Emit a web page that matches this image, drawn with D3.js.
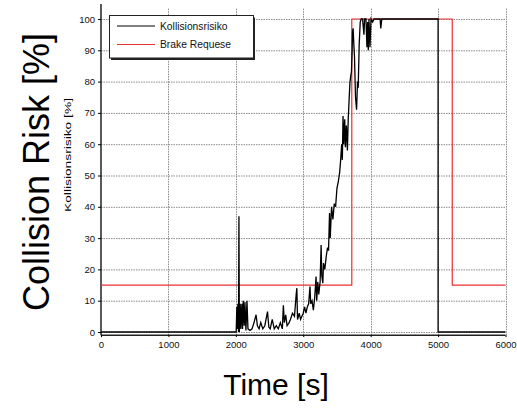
<!DOCTYPE html>
<html>
<head>
<meta charset="utf-8">
<script src="https://cdn.jsdelivr.net/npm/d3@7"></script>
<style>
  body { margin: 0; background: #fff; }
  text { font-family: "Liberation Sans", Arial, sans-serif; }
</style>
</head>
<body>
<svg></svg>
<script>
// data
var riskTime = [0,1990,2005,2015,2022,2030,2040,2046,2052,2065,2075,2090,2100,2110,2125,2135,2150,2165,2180,2210,2240,2270,2300,2320,2345,2370,2400,2430,2470,2490,2510,2540,2570,2600,2630,2660,2690,2705,2720,2740,2760,2790,2810,2840,2870,2895,2905,2915,2940,2960,2980,3000,3020,3040,3060,3080,3100,3110,3130,3150,3170,3190,3200,3215,3230,3250,3265,3275,3290,3300,3320,3340,3360,3375,3390,3400,3420,3440,3460,3480,3500,3520,3540,3555,3570,3580,3590,3600,3615,3625,3640,3655,3667,3680,3692,3705,3715,3725,3731,3740,3750,3760,3775,3791,3805,3815,3830,3845,3860,3880,3900,3910,3930,3945,3955,3965,3975,3990,4005,4030,4050,4140,4150,4165,5000,5000,6000];
var riskVals = [0,0,0,8,1,9,0,37,0,9,1,9,1,10,2,9.6,0.5,10,1,0.5,1,3,5.5,2,1,3,1,2,6.5,1.5,1,4,1,2,1,3,1,8.5,3,5.5,2,3,4,6,5,12,14,4,6,4,5,6,8,6,8,9,14.5,9,10,7,11,17.7,10,16,12,16,27.8,18,15.6,22,20,24,27,26,38,30,40,36,41,40,46,48,51,55,60,55,69,60,68,59,66,58,68,74,79.5,82,83,90,96,97,92,88,75,71,80,78,92,99,100,100,95,100,100,91,99,90,100,91,100,99,100,100,97,100,100,0,0];

var brakeTime = [0,3720,3720,5210,5210,6000];
var brakeVals = [15,15,100,100,15,15];

var xTicks = [0,1000,2000,3000,4000,5000,6000];
var yTicks = [0,10,20,30,40,50,60,70,80,90,100];

var seriesNames = ["Kollisionsrisiko", "Brake Requese"];
var seriesColors = ["#000000", "#e83030"];

var svgWidth = 517, svgHeight = 408;

var svg = d3.select("svg")
    .attr("width", svgWidth)
    .attr("height", svgHeight);

var xScale = d3.scaleLinear()
    .domain([0, 6000])
    .range([101, 505.5]);

var yScale = d3.scaleLinear()
    .domain([0, 100])
    .range([332, 19]);

var yBottom = yScale(-1), yTop = yScale(104.8);

// grid
svg.append("g").selectAll("line")
    .data(yTicks)
    .enter()
    .append("line")
    .attr("x1", xScale(0))
    .attr("x2", xScale(6000))
    .attr("y1", function(d) { return yScale(d) + 0.5; })
    .attr("y2", function(d) { return yScale(d) + 0.5; })
    .attr("stroke", "#8a8a8a")
    .attr("stroke-dasharray", "1.5,1");

svg.append("g").selectAll("line")
    .data(xTicks.slice(1))
    .enter()
    .append("line")
    .attr("x1", function(d) { return Math.round(xScale(d)) + 0.5; })
    .attr("x2", function(d) { return Math.round(xScale(d)) + 0.5; })
    .attr("y1", yBottom)
    .attr("y2", yScale(103.5))
    .attr("stroke", "#8a8a8a")
    .attr("stroke-dasharray", "1.5,1");

// axes
var xAxis = d3.axisBottom(xScale)
    .tickValues(xTicks)
    .tickFormat(d3.format("d"))
    .tickSize(2)
    .tickPadding(4);

var yAxis = d3.axisLeft(yScale)
    .tickValues(yTicks)
    .tickFormat(d3.format("d"))
    .tickSize(3)
    .tickPadding(3);

var gx = svg.append("g")
    .attr("transform", "translate(0," + yBottom + ")")
    .call(xAxis);

var gy = svg.append("g")
    .attr("transform", "translate(" + xScale(0) + ",0)")
    .call(yAxis);

gx.select(".domain").attr("d", "M" + xScale(0) + ",0H" + xScale(6000)).attr("stroke", "#222").attr("stroke-width", 1.5);
gy.select(".domain").attr("d", "M0," + yTop + "V" + yBottom).attr("stroke", "#222").attr("stroke-width", 1.5);
gx.selectAll("text").attr("font-size", "9.5px").attr("fill", "#111");
gy.selectAll("text").attr("font-size", "9.5px").attr("fill", "#111");

// lines
var line = d3.line()
    .x(function(d) { return xScale(d[0]); })
    .y(function(d) { return yScale(d[1]); });

svg.append("path")
    .datum(d3.zip(brakeTime, brakeVals))
    .attr("d", line)
    .attr("fill", "none")
    .attr("stroke", seriesColors[1])
    .attr("stroke-width", 1.2);

svg.append("path")
    .datum(d3.zip(riskTime, riskVals))
    .attr("d", line)
    .attr("fill", "none")
    .attr("stroke", seriesColors[0])
    .attr("stroke-width", 1.3)
    .attr("stroke-linejoin", "miter");

// legend
var legend = svg.append("g");
legend.append("rect")
    .attr("x", 111).attr("y", 17.5)
    .attr("width", 144).attr("height", 42.5)
    .attr("fill", "#222");
legend.append("rect")
    .attr("x", 109.5).attr("y", 15.5)
    .attr("width", 144).attr("height", 42.5)
    .attr("fill", "#fff")
    .attr("stroke", "#222")
    .attr("stroke-width", 1);

legend.selectAll(".lg-line")
    .data(seriesNames)
    .enter()
    .append("line")
    .attr("x1", 117).attr("x2", 155)
    .attr("y1", function(d, i) { return 26 + i * 18.5; })
    .attr("y2", function(d, i) { return 26 + i * 18.5; })
    .attr("stroke", function(d, i) { return seriesColors[i]; })
    .attr("stroke-width", 1);

legend.selectAll(".lg-text")
    .data(seriesNames)
    .enter()
    .append("text")
    .attr("x", 160)
    .attr("y", function(d, i) { return 29.5 + i * 18.5; })
    .attr("font-size", "10.3px")
    .attr("fill", "#111")
    .text(function(d) { return d; });

// axis titles
svg.append("text")
    .attr("transform", "translate(49,172) rotate(-90)")
    .attr("text-anchor", "middle")
    .attr("font-size", "36px")
    .text("Collision Risk [%]");

svg.append("text")
    .attr("transform", "translate(71,155) rotate(-90)")
    .attr("text-anchor", "middle")
    .attr("font-size", "9.5px")
    .attr("textLength", 114)
    .attr("lengthAdjust", "spacingAndGlyphs")
    .text("Kollisionsrisiko [%]");

svg.append("text")
    .attr("x", 276)
    .attr("y", 395)
    .attr("text-anchor", "middle")
    .attr("font-size", "30px")
    .text("Time [s]");
</script>
</body>
</html>
